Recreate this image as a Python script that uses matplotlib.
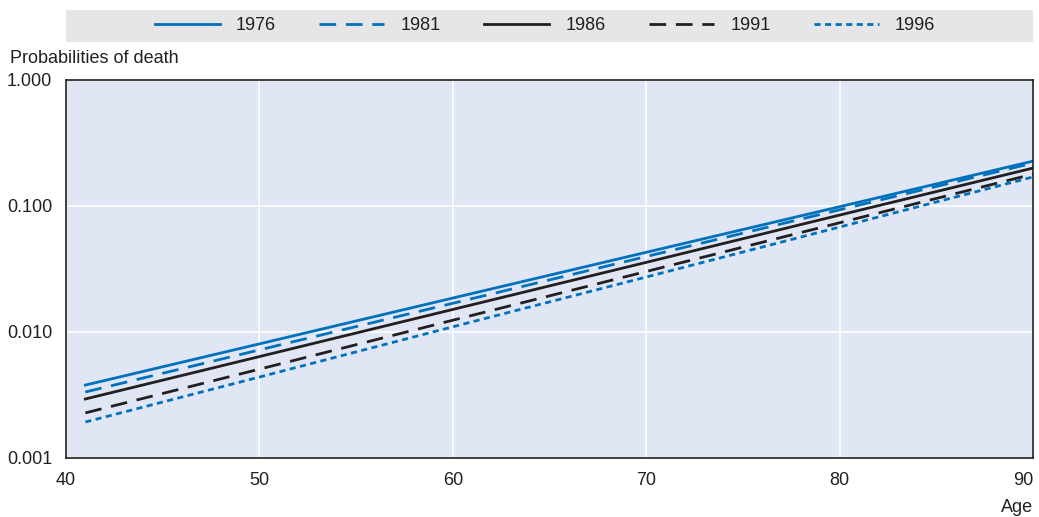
import matplotlib
matplotlib.use('Agg')
import matplotlib.pyplot as plt
from matplotlib.patches import Rectangle

plt.rcParams['font.family'] = ['Liberation Sans Narrow', 'Liberation Sans', 'DejaVu Sans']

# ages and probabilities of death
ages = [41, 50, 60, 70, 80, 90]
years = ['1976', '1981', '1986', '1991', '1996']
p1976 = [0.00379, 0.00805, 0.0186, 0.0429, 0.0987, 0.227]
p1981 = [0.00334, 0.00721, 0.0169, 0.0397, 0.0933, 0.219]
p1986 = [0.00294, 0.00638, 0.0151, 0.0357, 0.0847, 0.200]
p1991 = [0.00228, 0.00507, 0.0124, 0.0302, 0.0736, 0.179]
p1996 = [0.00193, 0.00439, 0.0110, 0.0273, 0.0681, 0.170]
series = [p1976, p1981, p1986, p1991, p1996]

blue = '#0072BC'
black = '#231F20'
colors = [blue, blue, black, black, blue]
dashes = [None, (6, 3.5), None, (6, 3.5), (2.2, 1.6)]

fig = plt.figure(figsize=(10.39, 5.17), dpi=100)
ax = fig.add_axes([66/1039, 59/517, 967/1039, 378/517])
ax.set_facecolor('#E1E6F4')

lines = []
for yr, vals, c, d in zip(years, series, colors, dashes):
    ln, = ax.plot(ages, vals, color=c, lw=2.0, label=yr)
    if d is not None:
        ln.set_dashes(d)
    lines.append(ln)

ax.set_yscale('log')
ax.set_xlim(40, 90)
ax.set_ylim(0.001, 1.0)
ax.set_xticks([40, 50, 60, 70, 80, 90])
ax.set_yticks([0.001, 0.01, 0.1, 1.0])
ax.set_yticklabels(['0.001', '0.010', '0.100', '1.000'])
ax.minorticks_off()
ax.tick_params(length=0, labelsize=13, colors='#231F20', pad=10)
ax.get_xticklabels()[-1].set_horizontalalignment('right')
ax.grid(True, color='white', lw=1.2)
ax.set_axisbelow(True)
for s in ax.spines.values():
    s.set_color('#231F20')
    s.set_linewidth(1.2)

fig.text(10/1039, 1 - 58/517, 'Probabilities of death', fontsize=13,
         color='#231F20', va='center', ha='left')
fig.text(1033/1039, 1 - 507/517, 'Age', fontsize=13, color='#231F20',
         va='center', ha='right')

# legend band
fig.patches.append(Rectangle((66/1039, 1 - 42/517), 967/1039, 32/517,
                             transform=fig.transFigure, facecolor='#E6E6E6',
                             edgecolor='none', zorder=0))
fig.legend(handles=lines, loc='center', ncol=5,
           bbox_to_anchor=(545/1039, 1 - 26/517), frameon=False,
           fontsize=13, handlelength=3.6, handletextpad=0.9,
           columnspacing=2.4, labelcolor='#231F20')

fig.savefig('out.png', dpi=100)
